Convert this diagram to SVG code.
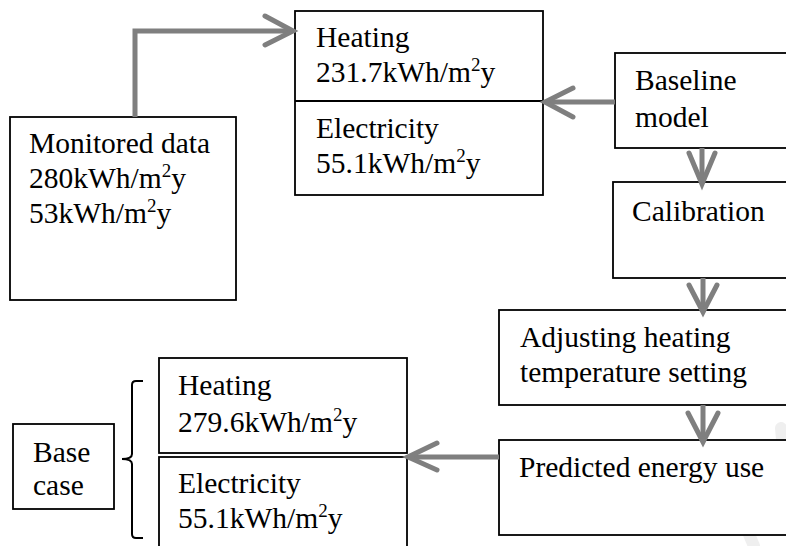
<svg xmlns="http://www.w3.org/2000/svg" width="786" height="546" viewBox="0 0 786 546">
<style>
.box{fill:#ffffff;stroke:#000000;stroke-width:1.8}
.t{font-family:"Liberation Serif","Times New Roman",serif;font-size:29.5px;fill:#000000}
.sup{font-size:19px}
.ln{fill:none;stroke:#7f7f7f;stroke-width:5;stroke-linecap:butt}
.hd{fill:none;stroke:#7f7f7f;stroke-width:5;stroke-linecap:round;stroke-linejoin:miter}
.wm{fill:none;stroke:#efefef;stroke-width:12;stroke-linecap:round}
</style>
<rect width="786" height="546" fill="#ffffff"/>
<g id="watermark">
<path class="wm" d="M723,464 Q738,510 754,546"/>
<path class="wm" d="M781,428 Q784,460 786,492"/>
</g>
<g id="monitored">
<rect class="box" x="10" y="117" width="226" height="183"/>
<text class="t" x="29" y="153">Monitored data</text>
<text class="t" x="29" y="188">280kWh/m<tspan class="sup" dy="-11">2</tspan><tspan dy="11">y</tspan></text>
<text class="t" x="29" y="223">53kWh/m<tspan class="sup" dy="-11">2</tspan><tspan dy="11">y</tspan></text>
</g>
<g id="simulated">
<rect class="box" x="295" y="11" width="248" height="184"/>
<line x1="295" y1="101" x2="543" y2="101" stroke="#000" stroke-width="1.8"/>
<text class="t" x="316" y="47">Heating</text>
<text class="t" x="316" y="82">231.7kWh/m<tspan class="sup" dy="-11">2</tspan><tspan dy="11">y</tspan></text>
<text class="t" x="316" y="138">Electricity</text>
<text class="t" x="316" y="173">55.1kWh/m<tspan class="sup" dy="-11">2</tspan><tspan dy="11">y</tspan></text>
</g>
<g id="baseline">
<rect class="box" x="615" y="53" width="200" height="95"/>
<text class="t" x="635" y="90">Baseline</text>
<text class="t" x="635" y="127">model</text>
</g>
<g id="calibration">
<rect class="box" x="613" y="182" width="200" height="96"/>
<text class="t" x="632" y="221">Calibration</text>
</g>
<g id="adjusting">
<rect class="box" x="499" y="310" width="320" height="95"/>
<text class="t" x="520" y="347">Adjusting heating</text>
<text class="t" x="520" y="382">temperature setting</text>
</g>
<g id="predicted">
<rect class="box" x="499" y="440" width="320" height="95"/>
<text class="t" x="519" y="477">Predicted energy use</text>
</g>
<g id="basecase-results">
<rect class="box" x="159" y="358" width="248" height="95"/>
<text class="t" x="178" y="395">Heating</text>
<text class="t" x="178" y="432">279.6kWh/m<tspan class="sup" dy="-11">2</tspan><tspan dy="11">y</tspan></text>
<rect class="box" x="159" y="457" width="248" height="100"/>
<text class="t" x="178" y="493">Electricity</text>
<text class="t" x="178" y="528">55.1kWh/m<tspan class="sup" dy="-11">2</tspan><tspan dy="11">y</tspan></text>
</g>
<g id="basecase">
<rect class="box" x="13" y="424" width="101" height="85"/>
<text class="t" x="33" y="462">Base</text>
<text class="t" x="33" y="495">case</text>
</g>
<g id="brace">
<path d="M143,381 L136,381 Q132,381 132,385 L132,454 Q132,459 122,459 Q132,459 132,464 L132,534 Q132,538 136,538 L143,538" fill="none" stroke="#000" stroke-width="2"/>
</g>
<g id="connectors">
<path class="ln" d="M135,117 V31 H291"/>
<path class="hd" d="M265,16 L293,31 L265,45"/>
<path class="ln" d="M615,102 H547"/>
<path class="hd" d="M573,88 L545,102 L573,117"/>
<path class="ln" d="M702,148 V182"/>
<path class="hd" d="M689,153 L702,184 L715,153"/>
<path class="ln" d="M703,278 V310"/>
<path class="hd" d="M689,285 L703,312 L717,285"/>
<path class="ln" d="M703,405 V440"/>
<path class="hd" d="M688,413 L703,442 L718,413"/>
<path class="ln" d="M499,457 H410"/>
<path class="hd" d="M437,443 L408,457 L437,470"/>
</g>
</svg>
